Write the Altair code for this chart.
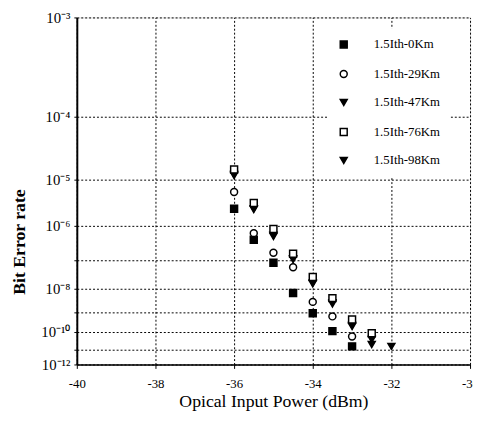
import altair as alt
import pandas as pd
import numpy as np

# ---- data (log10 of bit error rate) ----
series = ["1.5Ith-0Km", "1.5Ith-29Km", "1.5Ith-47Km", "1.5Ith-76Km", "1.5Ith-98Km"]

p_0km = [-36, -35.5, -35, -34.5, -34, -33.5, -33]
logber_0km = [-5.6, -6.38, -7.07, -8.17, -9.05, -9.95, -10.82]

p_29km = [-36, -35.5, -35, -34.5, -34, -33.5, -33]
logber_29km = [-5.24, -6.2, -6.76, -7.22, -8.54, -9.2, -10.24]

p_47km = [-36, -35.5, -35, -34.5, -34, -33.5, -33, -32.5]
logber_47km = [-4.9, -5.6, -6.26, -6.94, -7.78, -8.58, -9.65, -10.41]

p_76km = [-36, -35.5, -35, -34.5, -34, -33.5, -33, -32.5]
logber_76km = [-4.81, -5.47, -6.09, -6.79, -7.56, -8.38, -9.35, -10.06]

p_98km = [-36, -35.5, -35, -34.5, -34, -33.5, -33, -32.5, -32]
logber_98km = [-4.92, -5.62, -6.29, -6.97, -7.81, -8.63, -9.7, -10.71, -10.82]

x_ticks = [-40, -38, -36, -34, -32, -30]
y_exps = [3, 4, 5, 6, 7, 8, 9, 10, 11, 12]
y_labels = {3: "10⁻³", 4: "10⁻⁴", 5: "10⁻⁵", 6: "10⁻⁶", 8: "10⁻⁸", 10: "10⁻¹⁰", 12: "10⁻¹²"}

shapes = ["square", "circle", "triangle-down", "square", "triangle-down"]
fills = ["black", "white", "black", "white", "black"]
strokes = ["black"] * 5

# ---- build table (draw order: 0, 29, 47, 98, 76) ----
rows = []
for name, ps, ls in [
    (series[0], p_0km, logber_0km),
    (series[1], p_29km, logber_29km),
    (series[2], p_47km, logber_47km),
    (series[4], p_98km, logber_98km),
    (series[3], p_76km, logber_76km),
]:
    for p, l in zip(ps, ls):
        rows.append({"series": name, "power": p, "logber": l})
df = pd.DataFrame(rows)
df["t"] = np.log10(np.log10(-df["logber"]))   # BER paper scale


def tr(n):
    return float(np.log10(np.log10(n)))


y_vals = [tr(n) for n in y_exps]
label_expr = ""
for n, lab in y_labels.items():
    label_expr += f"round(pow(10, pow(10, datum.value))) == {n} ? '{lab}' : "
label_expr += "''"

FONT = "Liberation Serif"

legend = alt.Legend(
    orient="none", legendX=255, legendY=11, fillColor="white", padding=10,
    labelFont=FONT, labelFontSize=13, labelColor="black", labelOffset=24,
    rowPadding=15, symbolSize=50, symbolStrokeColor="black", symbolStrokeWidth=1.5,
)

chart = alt.Chart(df).mark_point(filled=True, opacity=1).encode(
    x=alt.X("power:Q",
            scale=alt.Scale(domain=[-40, -30], nice=False, zero=False),
            axis=alt.Axis(values=x_ticks, labelExpr="'' + datum.value",
                          labelFlush=False,
                          title="Opical Input Power (dBm)",
                          titleFont=FONT, titleFontSize=18, titleFontWeight="normal",
                          titleColor="black", titleX=200, titleY=38, titleBaseline="middle",
                          labelFont=FONT, labelFontSize=13, labelColor="black",
                          labelPadding=9, tickSize=4, tickColor="black",
                          domainColor="black", domainWidth=1.5,
                          grid=True, gridColor="black", gridDash=[2, 2], gridWidth=1)),
    y=alt.Y("t:Q",
            scale=alt.Scale(domain=[tr(3), tr(12)], reverse=True, nice=False, zero=False),
            axis=alt.Axis(values=y_vals, labelExpr=label_expr,
                          labelFlush=False,
                          title="Bit Error rate",
                          titleFont=FONT, titleFontSize=18, titleFontWeight="bold",
                          titleColor="black", titleX=-58, titleY=228, titleAngle=270,
                          titleAlign="center", titleBaseline="middle",
                          labelFont=FONT, labelFontSize=15, labelColor="black",
                          labelPadding=4, tickSize=3, tickColor="black",
                          domainColor="black", domainWidth=2,
                          grid=True, gridColor="black", gridDash=[2, 2], gridWidth=1)),
    shape=alt.Shape("series:N", title=None,
                    scale=alt.Scale(domain=series, range=shapes), legend=legend),
    fill=alt.Fill("series:N", title=None,
                  scale=alt.Scale(domain=series, range=fills), legend=legend),
    stroke=alt.Stroke("series:N", title=None,
                      scale=alt.Scale(domain=series, range=strokes), legend=legend),
    strokeWidth=alt.value(1.5),
    size=alt.value(50),
).properties(
    width=400, height=353,
    autosize=alt.AutoSizeParams(type="none"),
    padding={"left": 70, "top": 6, "right": 3, "bottom": 60},
).configure_view(
    stroke="black", strokeWidth=1.5
).configure(background="white")

chart.save("out.html", embed_options={"renderer": "svg", "actions": False})
